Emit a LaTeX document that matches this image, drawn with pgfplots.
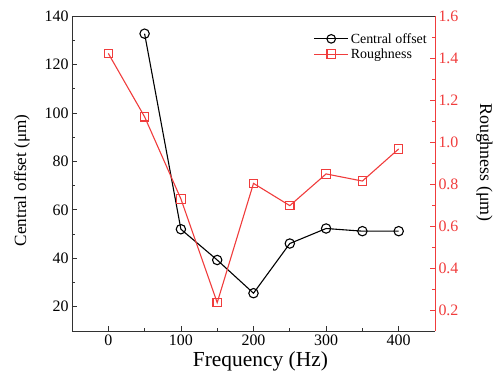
\documentclass[border=0pt]{standalone}
\usepackage{fontspec}
\setmainfont{Liberation Serif}
\usepackage{pgfplots}
\pgfplotsset{compat=1.18}
\definecolor{rred}{RGB}{240,60,60}
\definecolor{axgray}{RGB}{50,50,50}
\begin{document}
\begin{tikzpicture}
\pgfplotsset{
  common/.style={
    scale only axis, width=363bp, height=315bp,
    xmin=-50, xmax=450,
    tick align=inside,
    /pgf/number format/assume math mode=true,
    tick label style={font=\fontsize{16}{18}\selectfont},
    minor tick num=1,
    major tick length=5bp, minor tick length=3bp,
  }
}
\begin{axis}[common, name=ax1,
  axis y line*=left, axis x line*=bottom,
  ymin=10, ymax=140, ytick={20,40,...,140},
  xtick={0,100,200,300,400},
  axis line style={axgray, line width=0.9pt},
  tick style={axgray, line width=0.8pt},
  xlabel={Frequency (Hz)}, ylabel={Central offset (μm)},
  ylabel style={at={(axis description cs:-0.138,0.478)}, anchor=center, font=\fontsize{17.2}{20}\selectfont},
  xlabel style={at={(axis description cs:0.519,-0.112)}, anchor=base, font=\fontsize{21.5}{24}\selectfont},
]
\addplot[black, line width=1.1pt, mark=o, mark size=4.7bp, mark options={line width=1.1pt}]
coordinates {(50,132.7) (100,52) (150,39.3) (200,25.6) (250,46.1) (300,52.3) (350,51.2) (400,51.2)};
\end{axis}
\begin{axis}[common,
  axis y line*=right, axis x line=none,
  ymin=0.1, ymax=1.6, ytick={0.2,0.4,...,1.6},
  yticklabel style={rred, /pgf/number format/.cd, fixed, fixed zerofill, precision=1},
  axis line style={rred, line width=0.9pt},
  tick style={rred, line width=0.8pt},
  ylabel={Roughness (μm)},
  ylabel style={at={(axis description cs:1.136,0.535)}, anchor=center, rotate=180, font=\fontsize{18}{21}\selectfont},
  legend style={draw=none, fill=none, at={(axis description cs:1,1)}, anchor=north east, xshift=-5bp, yshift=-14bp, font=\fontsize{14}{16}\selectfont, row sep=0bp, inner sep=1bp},
  legend cell align=left,
  legend image code/.code={\draw[mark repeat=2,mark phase=2] plot coordinates {(0bp,0bp)(17bp,0bp)(34bp,0bp)};},
]
\addlegendimage{black, line width=1.1pt, mark=o, mark size=4.3bp, mark options={line width=1.1pt}}
\addlegendentry{Central offset}
\addplot[rred, line width=1.1pt, mark=square, mark size=4.2bp, mark options={line width=1.1pt}]
coordinates {(0,1.422) (50,1.12) (100,0.729) (150,0.235) (200,0.803) (250,0.697) (300,0.848) (350,0.814) (400,0.967)};
\addlegendentry{Roughness}
\draw[axgray, line width=0.9pt] (rel axis cs:0,1) -- (rel axis cs:1,1);
\end{axis}
\pgfresetboundingbox
\path[use as bounding box] ([xshift=-72bp,yshift=-52bp]ax1.south west) rectangle ([xshift=62bp,yshift=16bp]ax1.north east);
\end{tikzpicture}
\end{document}
